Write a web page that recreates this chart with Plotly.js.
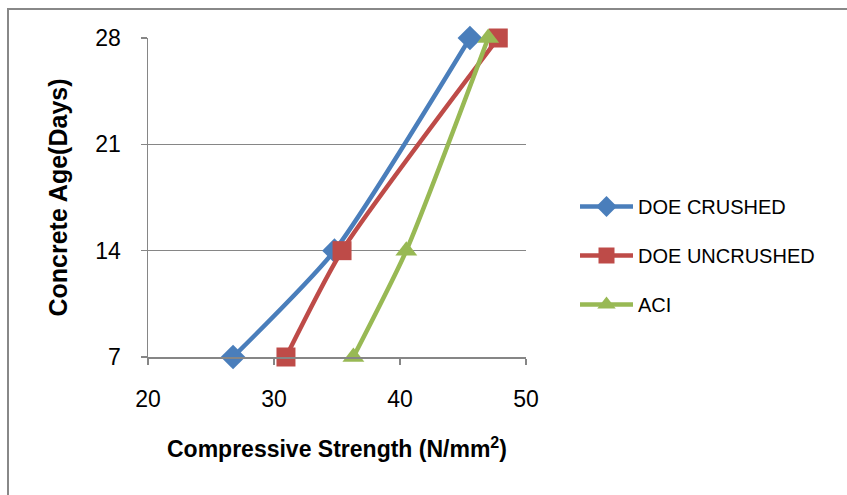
<!DOCTYPE html>
<html><head><meta charset="utf-8">
<script src="https://cdn.plot.ly/plotly-3.0.1.min.js"></script>
<style>html,body{margin:0;padding:0;background:#fff;}#chart{width:847px;height:495px;}</style>
</head><body><div id="chart"></div>
<script>
// Concrete age (days)
const ages = [7, 14, 28];
// Compressive strength (N/mm²)
const doeCrushed = [26.75, 34.8, 45.55];
const doeUncrushed = [30.95, 35.4, 47.8];
const aci = [36.3, 40.5, 47.0];
const seriesNames = ["DOE CRUSHED", "DOE UNCRUSHED", "ACI"];
const xTicks = [20, 30, 40, 50];
const yTicks = [7, 14, 21, 28];

const FONT = "Liberation Sans, Arial, sans-serif";
const colors = ["#4A7EBB", "#BE4B48", "#98B954"];
const symbols = ["diamond", "square", "triangle-up"];
const sizes = [19, 19, 19];
const vals = [doeCrushed, doeUncrushed, aci];

const traces = vals.map((v, i) => ({
  x: v, y: ages, name: seriesNames[i], type: "scatter", mode: "lines+markers",
  line: {color: colors[i], width: 4.5, shape: "spline", smoothing: 0.6},
  marker: {color: colors[i], symbol: symbols[i], size: sizes[i]},
  cliponaxis: false, legendgroup: "g" + i
}));

const W = 847, H = 495;
const m = {l: 148, r: W - 526, t: 38, b: H - 357};
const pw = W - m.l - m.r, ph = H - m.t - m.b;
function px(xp) { return (xp - m.l) / pw; }
function py(yp) { return (H - m.b - yp) / ph; }

const layout = {
  width: W, height: H, margin: m,
  paper_bgcolor: "#fff", plot_bgcolor: "#fff",
  font: {family: FONT, size: 20, color: "#000"},
  showlegend: true,
  legend: {x: px(575), y: py(187), xanchor: "left", yanchor: "top",
    font: {family: FONT, size: 20, color: "#000"}, itemwidth: 53,
    tracegroupgap: 20, bgcolor: "rgba(0,0,0,0)"},
  xaxis: {range: [20, 50], tickvals: xTicks, ticktext: xTicks.map(String),
    showgrid: false, zeroline: false, showline: true, linecolor: "#868686", linewidth: 1.5,
    ticks: "outside", ticklen: 6, tickcolor: "#868686", tickwidth: 1.5, ticklabelstandoff: 15,
    tickfont: {family: FONT, size: 23},
    title: {text: "<b>Compressive Strength (N/mm<sup>2</sup>)</b>", font: {family: FONT, size: 23}, standoff: 30}},
  yaxis: {range: [7, 28], tickvals: yTicks, ticktext: yTicks.map(String),
    showgrid: true, gridcolor: "#868686", gridwidth: 1.5, zeroline: false,
    showline: true, linecolor: "#868686", linewidth: 1.5,
    ticks: "outside", ticklen: 6, tickcolor: "#868686", tickwidth: 1.5, ticklabelstandoff: 15,
    tickfont: {family: FONT, size: 23},
    title: {text: "<b>Concrete Age(Days)</b>", font: {family: FONT, size: 25}, standoff: 20}},
  shapes: [{type: "rect", xref: "paper", yref: "paper",
    x0: px(8), x1: px(W + 20), y0: py(H + 20), y1: py(9),
    line: {color: "#888888", width: 2}, fillcolor: "rgba(0,0,0,0)", layer: "below"}]
};

Plotly.newPlot("chart", traces, layout, {displayModeBar: false, staticPlot: true});
</script></body></html>
